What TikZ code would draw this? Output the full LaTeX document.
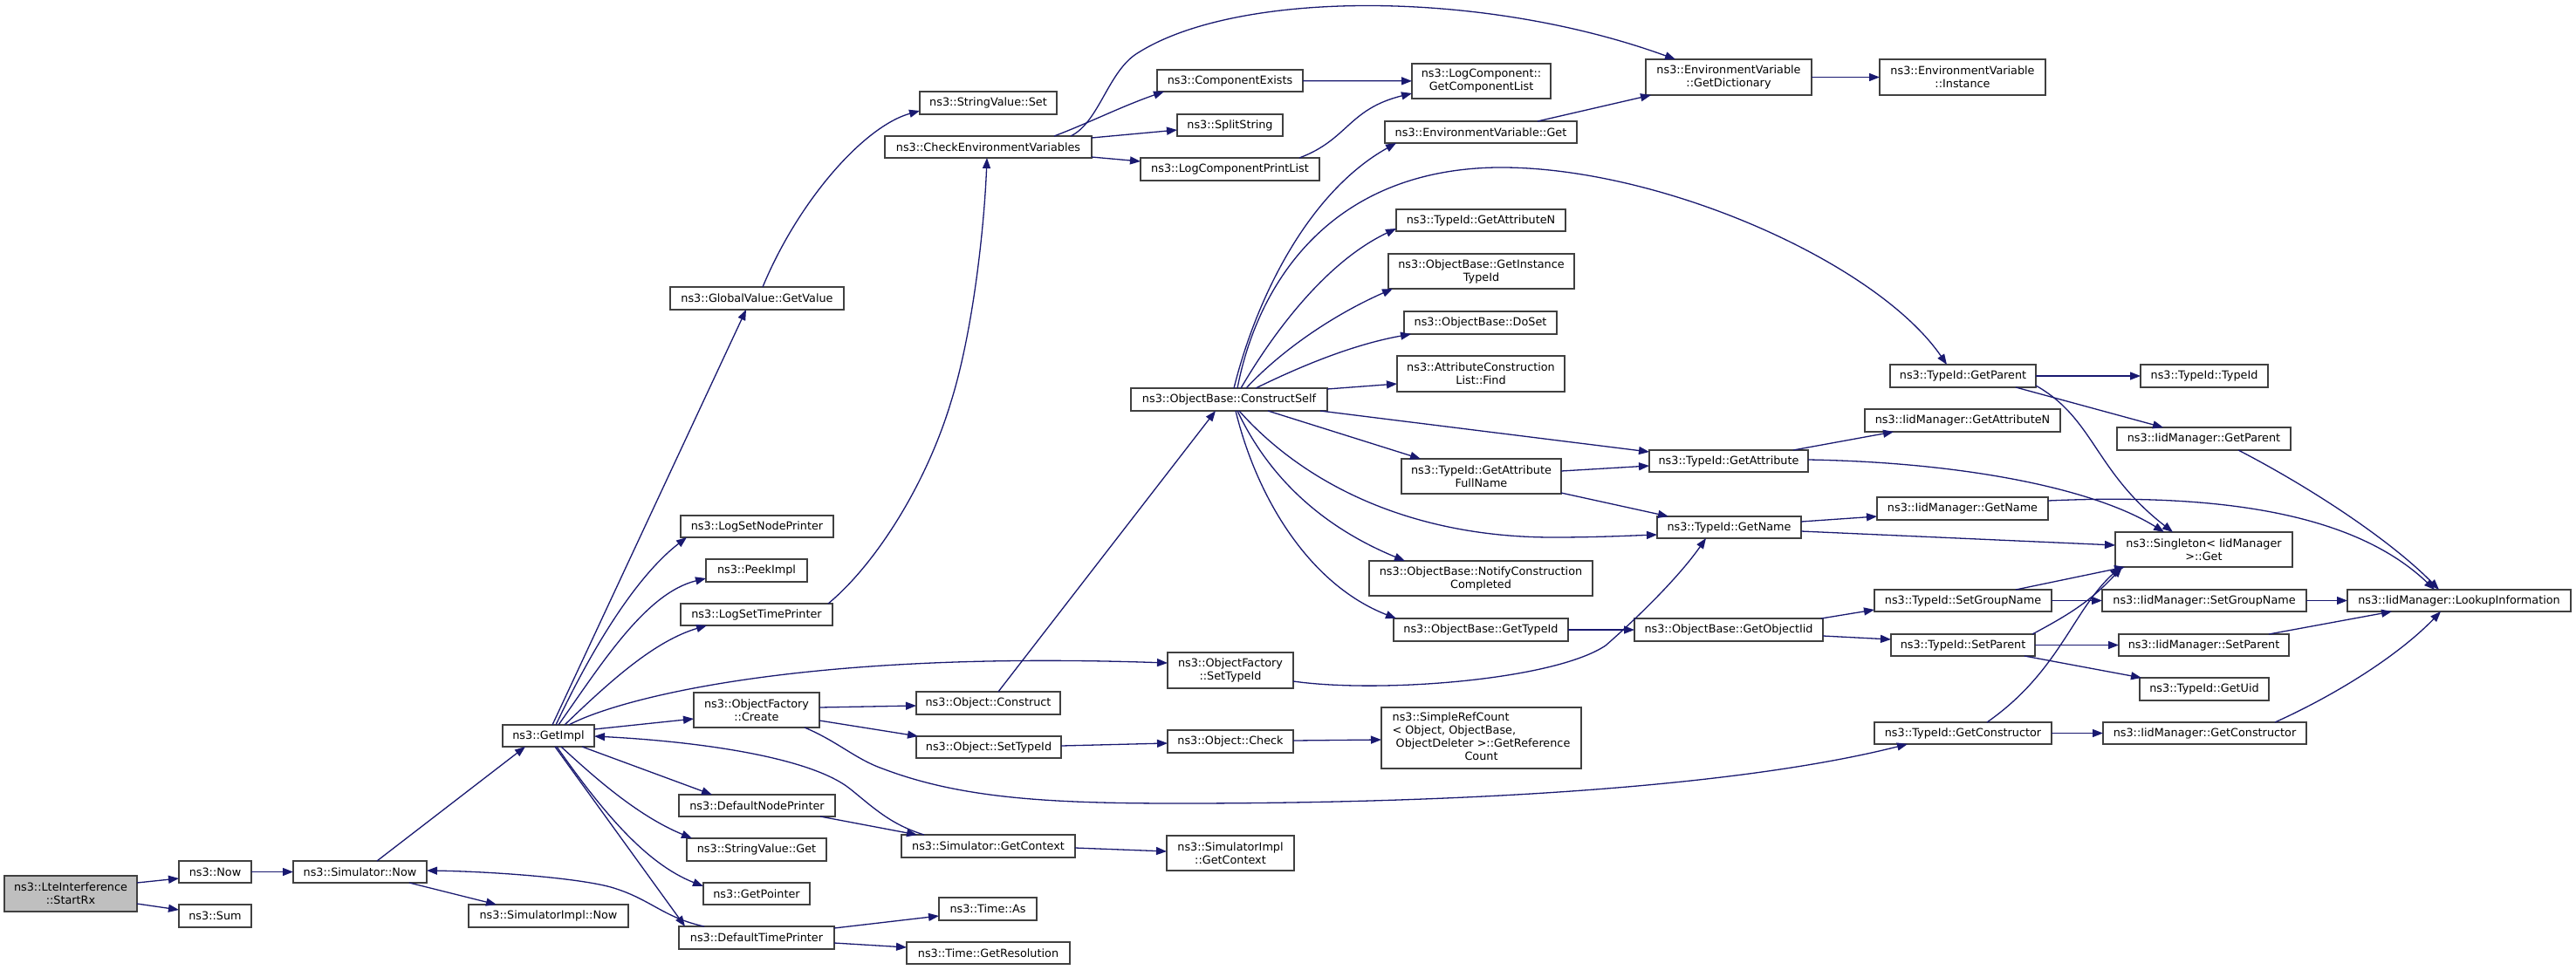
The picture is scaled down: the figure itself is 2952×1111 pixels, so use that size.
\documentclass[tikz,border=0pt]{standalone}
\usepackage{fontspec}
\setmainfont{DejaVu Sans}
\usetikzlibrary{calc,arrows.meta}
\definecolor{edgeblue}{HTML}{191970}
\definecolor{boxline}{HTML}{404040}
\definecolor{hilite}{HTML}{BFBFBF}
\newcommand\mkbox[7][]{%
  \pgfmathsetmacro\bcx{(#3+#5)/2}\pgfmathsetmacro\bcy{(#4+#6)/2}%
  \pgfmathsetmacro\bw{#5-#3}\pgfmathsetmacro\bh{#6-#4}%
  \node[box,minimum width=\bw pt,minimum height=\bh pt,#1] (#2) at (\bcx,\bcy) {#7};}
\tikzset{
  box/.style={draw=boxline, line width=1.5pt, fill=white, inner sep=0pt, outer sep=0pt,
    align=center, font=\fontsize{12.8}{15}\selectfont},
  edge/.style={draw=edgeblue, line width=1.3pt, -{Triangle[length=12pt,width=9pt]}}
}
\begin{document}
\begin{tikzpicture}[x=1pt,y=-1pt]
\useasboundingbox[fill=white] (0,0) rectangle (2952,1111);
% ---- nodes ----
\mkbox[fill=hilite]{start}{5}{1004}{157}{1045}{ns3::LteInterference\\::StartRx}
\mkbox{now}{205}{987}{288}{1012}{ns3::Now}
\mkbox{sum}{205}{1037}{288}{1063}{ns3::Sum}
\mkbox{simnow}{336}{987}{489}{1012}{ns3::Simulator::Now}
\mkbox{simimplnow}{537}{1037}{720}{1063}{ns3::SimulatorImpl::Now}
\mkbox{getimpl}{576}{831}{681}{856}{ns3::GetImpl}
\mkbox{gvget}{768}{329}{967}{355}{ns3::GlobalValue::GetValue}
\mkbox{svset}{1054}{105}{1211}{131}{ns3::StringValue::Set}
\mkbox{cev}{1014}{156}{1251}{181}{ns3::CheckEnvironmentVariables}
\mkbox{lsnp}{780}{591}{955}{616}{ns3::LogSetNodePrinter}
\mkbox{peek}{809}{641}{925}{667}{ns3::PeekImpl}
\mkbox{lstp}{780}{692}{954}{717}{ns3::LogSetTimePrinter}
\mkbox{ofc}{795}{794}{939}{834}{ns3::ObjectFactory\\::Create}
\mkbox{ocons}{1050}{793}{1215}{819}{ns3::Object::Construct}
\mkbox{osettid}{1050}{844}{1216}{869}{ns3::Object::SetTypeId}
\mkbox{dnp}{778}{911}{957}{936}{ns3::DefaultNodePrinter}
\mkbox{sgc}{1033}{957}{1232}{983}{ns3::Simulator::GetContext}
\mkbox{svget}{787}{961}{947}{987}{ns3::StringValue::Get}
\mkbox{getptr}{806}{1012}{928}{1037}{ns3::GetPointer}
\mkbox{timeas}{1076}{1029}{1188}{1055}{ns3::Time::As}
\mkbox{dtp}{778}{1062}{956}{1088}{ns3::DefaultTimePrinter}
\mkbox{timeres}{1039}{1080}{1226}{1105}{ns3::Time::GetResolution}
\mkbox{cexists}{1326}{80}{1493}{105}{ns3::ComponentExists}
\mkbox{split}{1349}{131}{1470}{156}{ns3::SplitString}
\mkbox{lcpl}{1307}{181}{1512}{207}{ns3::LogComponentPrintList}
\mkbox{gcl}{1618}{73}{1777}{113}{ns3::LogComponent::\\GetComponentList}
\mkbox{evget}{1587}{139}{1807}{164}{ns3::EnvironmentVariable::Get}
\mkbox{evdict}{1886}{68}{2076}{109}{ns3::EnvironmentVariable\\::GetDictionary}
\mkbox{evinst}{2154}{68}{2344}{109}{ns3::EnvironmentVariable\\::Instance}
\mkbox{tgan}{1600}{240}{1794}{265}{ns3::TypeId::GetAttributeN}
\mkbox{obgit}{1591}{291}{1804}{331}{ns3::ObjectBase::GetInstance\\TypeId}
\mkbox{dosetn}{1609}{357}{1784}{383}{ns3::ObjectBase::DoSet}
\mkbox{aclf}{1601}{408}{1793}{449}{ns3::AttributeConstruction\\List::Find}
\mkbox{cself}{1296}{445}{1521}{471}{ns3::ObjectBase::ConstructSelf}
\mkbox{gafn}{1606}{526}{1789}{566}{ns3::TypeId::GetAttribute\\FullName}
\mkbox{tga}{1890}{516}{2072}{541}{ns3::TypeId::GetAttribute}
\mkbox{tgn}{1899}{592}{2064}{617}{ns3::TypeId::GetName}
\mkbox{ncc}{1569}{643}{1825}{683}{ns3::ObjectBase::NotifyConstruction\\Completed}
\mkbox{obgtid}{1597}{709}{1797}{735}{ns3::ObjectBase::GetTypeId}
\mkbox{goiid}{1873}{709}{2089}{735}{ns3::ObjectBase::GetObjectIid}
\mkbox{ofstid}{1338}{748}{1482}{789}{ns3::ObjectFactory\\::SetTypeId}
\mkbox{ocheck}{1338}{837}{1482}{863}{ns3::Object::Check}
\mkbox{srcount}{1583}{811}{1812}{881}{\begin{tabular}{@{}l@{}}ns3::SimpleRefCount\\< Object, ObjectBase,\\\ ObjectDeleter >::GetReference\\\multicolumn{1}{@{}c@{}}{Count}\end{tabular}}
\mkbox{sigc}{1337}{958}{1483}{998}{ns3::SimulatorImpl\\::GetContext}
\mkbox{tgp}{2166}{418}{2333}{444}{ns3::TypeId::GetParent}
\mkbox{ttid}{2453}{418}{2599}{444}{ns3::TypeId::TypeId}
\mkbox{igan}{2137}{469}{2361}{495}{ns3::IidManager::GetAttributeN}
\mkbox{igp}{2426}{490}{2625}{516}{ns3::IidManager::GetParent}
\mkbox{ign}{2151}{570}{2347}{596}{ns3::IidManager::GetName}
\mkbox{sing}{2424}{610}{2627}{650}{ns3::Singleton< IidManager\\ >::Get}
\mkbox{tsgn}{2148}{676}{2351}{701}{ns3::TypeId::SetGroupName}
\mkbox{isgn}{2409}{676}{2643}{701}{ns3::IidManager::SetGroupName}
\mkbox{lookup}{2690}{676}{2946}{701}{ns3::IidManager::LookupInformation}
\mkbox{tsp}{2167}{727}{2332}{752}{ns3::TypeId::SetParent}
\mkbox{isp}{2428}{727}{2623}{752}{ns3::IidManager::SetParent}
\mkbox{tuid}{2452}{777}{2600}{803}{ns3::TypeId::GetUid}
\mkbox{tgc}{2148}{828}{2351}{853}{ns3::TypeId::GetConstructor}
\mkbox{igc}{2410}{828}{2643}{853}{ns3::IidManager::GetConstructor}
% ---- edges ----
\draw[edge] ($(start.north east)+(0,8)$) -- ($(now.north west)+(0,20)$);
\draw[edge] ($(start.north east)+(0,32)$) -- ($(sum.north west)+(0,6)$);
\draw[edge] (now) -- (simnow);
\draw[edge] ($(simnow.north west)+(96,0)$) -- ($(getimpl.south west)+(26,0)$);
\draw[edge] ($(simnow.south west)+(133,0)$) -- ($(simimplnow.north west)+(32,0)$);
\draw[edge] ($(dtp.north west)+(29,0)$) .. controls (760,1052) and (745,1030) .. (700,1017) .. controls (660,1006) and (560,999) .. ($(simnow.north east)+(0,11)$);
\draw[edge] ($(getimpl.north west)+(57,0)$) -- ($(gvget.south west)+(87,0)$);
\draw[edge] ($(gvget.north west)+(106,0)$) .. controls (915,230) and (990,145) .. ($(svset.north west)+(0,22)$);
\draw[edge] ($(getimpl.north west)+(61,0)$) .. controls (680,740) and (730,660) .. ($(lsnp.south west)+(7,0)$);
\draw[edge] ($(getimpl.north west)+(64,0)$) .. controls (690,760) and (740,680) .. ($(peek.north west)+(0,22)$);
\draw[edge] ($(getimpl.north west)+(71,0)$) .. controls (700,780) and (750,735) .. ($(lstp.south west)+(30,0)$);
\draw[edge] ($(lstp.north west)+(169,0)$) .. controls (1000,650) and (1060,560) .. (1090,460) .. controls (1115,380) and (1128,260) .. ($(cev.south west)+(117,0)$);
\draw[edge] ($(cev.north west)+(213,0)$) .. controls (1260,140) and (1270,80) .. (1305,60) .. controls (1420,-12) and (1700,-12) .. ($(evdict.north west)+(34,0)$);
\draw[edge] ($(cev.north west)+(194,0)$) .. controls (1250,140) and (1285,122) .. ($(cexists.south west)+(8,0)$);
\draw[edge] ($(cev.north east)+(0,2)$) -- ($(split.north west)+(0,18)$);
\draw[edge] ($(cev.north east)+(0,24)$) -- ($(lcpl.north west)+(0,4)$);
\draw[edge] (cexists) -- (gcl);
\draw[edge] ($(lcpl.north west)+(182,0)$) .. controls (1545,160) and (1545,125) .. ($(gcl.north west)+(0,34)$);
\draw[edge] (evdict) -- (evinst);
\draw[edge] ($(evget.north west)+(175,0)$) -- ($(evdict.south west)+(6,0)$);
\draw[edge] ($(cself.north west)+(118,0)$) .. controls (1440,340) and (1500,220) .. ($(evget.south west)+(13,0)$);
\draw[edge] ($(cself.north west)+(122,0)$) .. controls (1440,330) and (1520,195) .. (1715,192) .. controls (1900,190) and (2150,300) .. ($(tgp.north west)+(65,0)$);
\draw[edge] ($(cself.north west)+(126,0)$) .. controls (1460,380) and (1520,300) .. ($(tgan.north west)+(0,22)$);
\draw[edge] ($(cself.north west)+(132,0)$) .. controls (1470,400) and (1530,360) .. ($(obgit.south west)+(5,0)$);
\draw[edge] ($(cself.north west)+(143,0)$) .. controls (1490,420) and (1550,395) .. ($(dosetn.south west)+(8,0)$);
\draw[edge] ($(cself.north east)+(0,1)$) -- ($(aclf.north west)+(0,32)$);
\draw[edge] ($(cself.south west)+(217,0)$) -- ($(tga.north west)+(0,2)$);
\draw[edge] ($(cself.south west)+(157,0)$) -- ($(gafn.north west)+(22,0)$);
\draw[edge] ($(cself.south west)+(124,0)$) .. controls (1490,550) and (1610,616) .. (1780,616) .. controls (1830,616) and (1870,614) .. ($(tgn.north west)+(0,21)$);
\draw[edge] ($(cself.south west)+(122,0)$) .. controls (1460,560) and (1530,610) .. ($(ncc.north west)+(41,0)$);
\draw[edge] ($(cself.south west)+(120,0)$) .. controls (1440,570) and (1500,670) .. ($(obgtid.north west)+(3,0)$);
\draw[edge] ($(gafn.north east)+(0,14)$) -- ($(tga.north west)+(0,18)$);
\draw[edge] ($(gafn.south east)+(0,-1)$) -- ($(tgn.north west)+(13,0)$);
\draw[edge] (obgtid) -- (goiid);
\draw[edge] ($(ofstid.north east)+(0,33)$) .. controls (1580,795) and (1780,780) .. (1840,740) .. controls (1880,705) and (1925,660) .. ($(tgn.south west)+(56,0)$);
\draw[edge] ($(ocheck.north east)+(0,12)$) -- ($(srcount.north west)+(0,37)$);
\draw[edge] ($(osettid.north east)+(0,11)$) -- ($(ocheck.north west)+(0,15)$);
\draw[edge] ($(ocons.north west)+(94,0)$) -- ($(cself.south west)+(97,0)$);
\draw[edge] ($(ofc.north east)+(0,17)$) -- ($(ocons.north west)+(0,16)$);
\draw[edge] ($(ofc.north east)+(0,32)$) -- ($(osettid.north west)+(2,0)$);
\draw[edge] ($(ofc.south west)+(127,0)$) .. controls (960,850) and (980,870) .. (1011,881) .. controls (1100,915) and (1200,921) .. (1350,921) .. controls (1700,921) and (2000,900) .. ($(tgc.south west)+(38,0)$);
\draw[edge] ($(getimpl.north west)+(76,0)$) .. controls (700,805) and (900,745) .. ($(ofstid.north west)+(0,12)$);
\draw[edge] ($(getimpl.north east)+(0,5)$) -- ($(ofc.north west)+(0,30)$);
\draw[edge] ($(sgc.north west)+(26,0)$) .. controls (1020,945) and (1000,925) .. (975,905) .. controls (930,868) and (800,850) .. ($(getimpl.north east)+(0,13)$);
\draw[edge] ($(getimpl.south west)+(91,0)$) -- ($(dnp.north west)+(38,0)$);
\draw[edge] ($(getimpl.south west)+(67,0)$) .. controls (680,890) and (730,935) .. ($(svget.north west)+(6,0)$);
\draw[edge] ($(getimpl.south west)+(62,0)$) .. controls (690,930) and (740,990) .. ($(getptr.north west)+(0,4)$);
\draw[edge] ($(getimpl.south west)+(60,0)$) -- ($(dtp.north west)+(7,0)$);
\draw[edge] ($(dtp.north east)+(0,2)$) -- ($(timeas.north west)+(0,21)$);
\draw[edge] ($(dtp.north east)+(0,19)$) -- ($(timeres.north west)+(0,6)$);
\draw[edge] ($(sgc.north east)+(0,15)$) -- ($(sigc.north west)+(0,18)$);
\draw[edge] ($(dnp.south west)+(162,0)$) -- ($(sgc.north west)+(18,0)$);
\draw[edge] (tgp) -- (ttid);
\draw[edge] ($(tgp.south west)+(144,0)$) -- ($(igp.north west)+(53,0)$);
\draw[edge] ($(tgp.north east)+(0,24)$) .. controls (2400,480) and (2400,540) .. ($(sing.north west)+(66,0)$);
\draw[edge] ($(igp.south west)+(139,0)$) .. controls (2650,560) and (2740,620) .. ($(lookup.north west)+(105,0)$);
\draw[edge] ($(tga.north west)+(165,0)$) -- ($(igan.south west)+(33,0)$);
\draw[edge] ($(tga.north east)+(0,11)$) .. controls (2250,530) and (2400,560) .. ($(sing.north west)+(56,0)$);
\draw[edge] ($(tgn.north east)+(0,6)$) -- ($(ign.north west)+(0,22)$);
\draw[edge] ($(tgn.north east)+(0,17)$) -- ($(sing.north west)+(0,15)$);
\draw[edge] ($(ign.north east)+(0,4)$) .. controls (2550,565) and (2700,590) .. ($(lookup.north west)+(100,0)$);
\draw[edge] ($(goiid.north east)+(-2,0)$) -- ($(tsgn.south west)+(0,-2)$);
\draw[edge] ($(goiid.north east)+(0,20)$) -- ($(tsp.north west)+(0,6)$);
\draw[edge] (tsgn) -- (isgn);
\draw[edge] ($(tsgn.north west)+(162,0)$) -- ($(sing.south west)+(11,0)$);
\draw[edge] (isgn) -- (lookup);
\draw[edge] (tsp) -- (isp);
\draw[edge] ($(tsp.north east)+(-3,0)$) .. controls (2370,705) and (2395,690) .. ($(sing.south west)+(8,0)$);
\draw[edge] ($(tsp.south west)+(153,0)$) -- ($(tuid.north west)+(2,0)$);
\draw[edge] ($(isp.north west)+(172,0)$) -- ($(lookup.south west)+(51,0)$);
\draw[edge] (tgc) -- (igc);
\draw[edge] ($(tgc.north west)+(129,0)$) .. controls (2360,770) and (2375,700) .. ($(sing.south west)+(6,0)$);
\draw[edge] ($(igc.north west)+(197,0)$) .. controls (2680,795) and (2750,750) .. ($(lookup.south west)+(107,0)$);
\end{tikzpicture}
\end{document}
